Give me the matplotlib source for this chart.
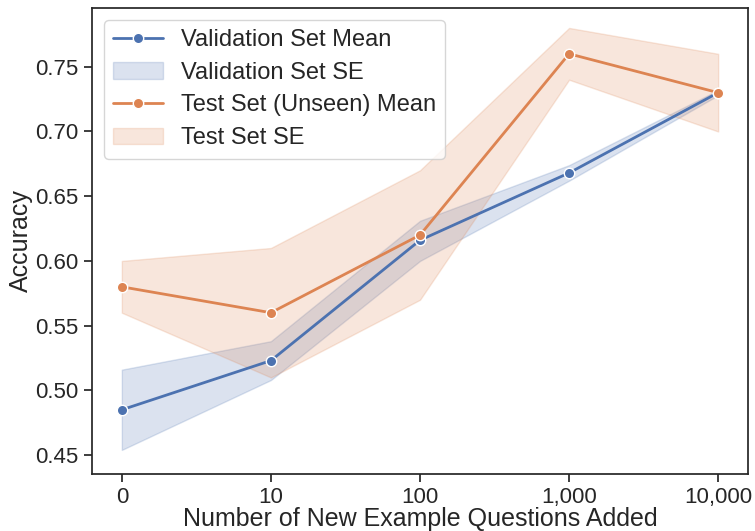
import matplotlib
matplotlib.use("Agg")
import matplotlib.pyplot as plt
import seaborn as sns
import numpy as np

categories = ["0", "10", "100", "1,000", "10,000"]
val_mean = [0.485, 0.523, 0.616, 0.668, 0.730]
val_low = [0.454, 0.508, 0.600, 0.662, 0.728]
val_high = [0.516, 0.538, 0.631, 0.674, 0.732]
test_mean = [0.58, 0.56, 0.62, 0.76, 0.73]
test_low = [0.56, 0.51, 0.57, 0.74, 0.70]
test_high = [0.60, 0.61, 0.67, 0.78, 0.76]

sns.set_theme(style="ticks")
plt.rcParams['font.family'] = ['Liberation Sans', 'DejaVu Sans']

blue = sns.color_palette()[0]
orange = sns.color_palette()[1]

fig = plt.figure(figsize=(7.55, 5.31), dpi=100)
ax = fig.add_axes([92/755, 1 - 474/531, (748 - 92)/755, (474 - 8)/531])
x = np.arange(len(categories))

ax.plot(x, val_mean, '-o', color=blue, lw=2, ms=7.5, mec='white', mew=1, label='Validation Set Mean')
ax.fill_between(x, val_low, val_high, color=blue, alpha=0.2, label='Validation Set SE')
ax.plot(x, test_mean, '-o', color=orange, lw=2, ms=7.5, mec='white', mew=1, label='Test Set (Unseen) Mean')
ax.fill_between(x, test_low, test_high, color=orange, alpha=0.2, label='Test Set SE')

ax.set_xticks(x)
ax.set_xticklabels(categories)
ax.set_xlim(-0.2, 4.2)
ax.set_ylim(0.4354, 0.7954)
yt = [0.45, 0.50, 0.55, 0.60, 0.65, 0.70, 0.75]
ax.set_yticks(yt)
ax.set_yticklabels([f"{v:.2f}" for v in yt])
ax.tick_params(labelsize=16, colors='#262626')
ax.set_xlabel("Number of New Example Questions Added", fontsize=18, labelpad=-1)
ax.set_ylabel("Accuracy", fontsize=18, labelpad=2)
for s in ax.spines.values():
    s.set_visible(True)
    s.set_color('#262626')
ax.legend(loc='upper left', fontsize=17, frameon=True, handlelength=2.1,
          handletextpad=0.75, labelspacing=0.45, borderaxespad=0.5)

fig.savefig("out.png", dpi=100)
